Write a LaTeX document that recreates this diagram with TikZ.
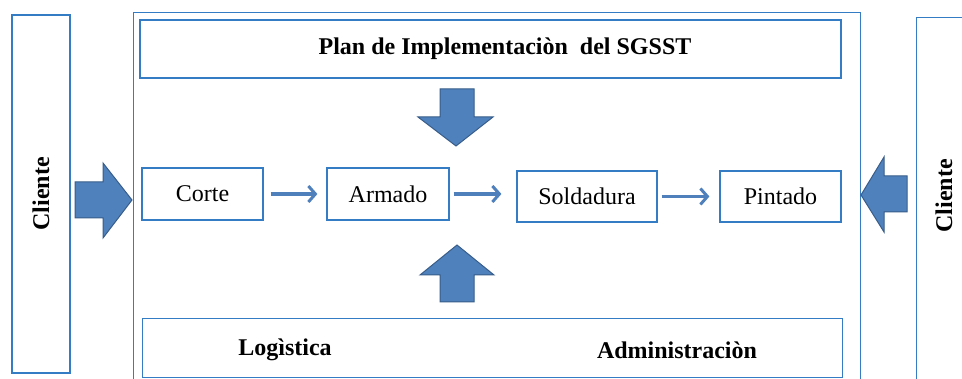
\documentclass[tikz,border=0pt]{standalone}
\usepackage{fontspec}
\setmainfont{Liberation Serif}
\usetikzlibrary{arrows.meta}
\definecolor{boxblue}{RGB}{52,124,196}
\definecolor{arrfill}{RGB}{79,129,189}
\definecolor{arrline}{RGB}{56,93,138}
\definecolor{flowblue}{RGB}{80,128,188}
\tikzset{
  box/.style={draw=boxblue, line width=1.2pt, inner sep=0pt, fill=white},
  stepbox/.style={box, font=\fontsize{24}{28}\selectfont},
  bold/.style={font=\fontsize{24}{28}\selectfont\bfseries, inner sep=0pt},
  blockarrow/.style={fill=arrfill, draw=arrline, line width=1pt, line join=miter},
  flow/.style={draw=flowblue, line width=3.2pt, -{Straight Barb[length=7pt,width=16pt,line width=3pt]}}
}
\begin{document}
\begin{tikzpicture}[x=1pt,y=-1pt]
\useasboundingbox (0,0) rectangle (962,379);
\fill[white] (0,0) rectangle (962,379);
\clip (0,0) rectangle (962,379);
% outer frames
\node[box, minimum width=727pt, minimum height=420pt, anchor=north west] (outer) at (133,12) {};
\node[box, minimum width=58pt, minimum height=358pt] (cliL) at (41,194) {};
\node[box, minimum width=90pt, minimum height=420pt, anchor=north west] (cliR) at (916,17) {};
\node[bold, rotate=90] (tcliL) at (cliL.center) {Cliente};
\node[bold, rotate=90] (tcliR) at (944,196) {Cliente};
% top and bottom boxes
\node[box, minimum width=701pt, minimum height=58pt] (plan) at (490.5,49) {};
\node[bold] (tplan) at (505,49) {Plan de Implementaciòn\ \ del SGSST};
\node[box, minimum width=700pt, minimum height=59pt, anchor=north west] (bottom) at (142,318) {};
\node[bold] (logi) at (285,350) {Logìstica};
\node[bold] (admin) at (677,350) {Administraciòn};
% process boxes
\node[stepbox, minimum width=121pt, minimum height=52pt] (corte) at (202.5,194) {Corte};
\node[stepbox, minimum width=122pt, minimum height=52pt] (armado) at (388,194) {Armado};
\node[stepbox, minimum width=140pt, minimum height=51pt] (sold) at (587,196.5) {Soldadura};
\node[stepbox, minimum width=121pt, minimum height=51pt] (pint) at (780.5,196.5) {Pintado};
% flow arrows
\draw[flow, shorten <=7pt, shorten >=9pt] (corte.east) -- (armado.west);
\draw[flow, shorten <=4pt, shorten >=15pt] (armado.east) -- (armado.east -| sold.west);
\draw[flow, shorten <=4pt, shorten >=10pt] (sold.east) -- (pint.west);
% block arrows
\draw[blockarrow] (75,182) -- (103,182) -- (103,163) -- (132,200) -- (103,238) -- (103,218) -- (75,218) -- cycle;
\draw[blockarrow] (907,176) -- (884,176) -- (884,157) -- (861,195) -- (884,232) -- (884,212) -- (907,212) -- cycle;
\draw[blockarrow] (440,89) -- (474,89) -- (474,117) -- (493,117) -- (456,146) -- (418,117) -- (440,117) -- cycle;
\draw[blockarrow] (440,302) -- (474,302) -- (474,275) -- (494,275) -- (457,245) -- (420,275) -- (440,275) -- cycle;
\end{tikzpicture}
\end{document}
